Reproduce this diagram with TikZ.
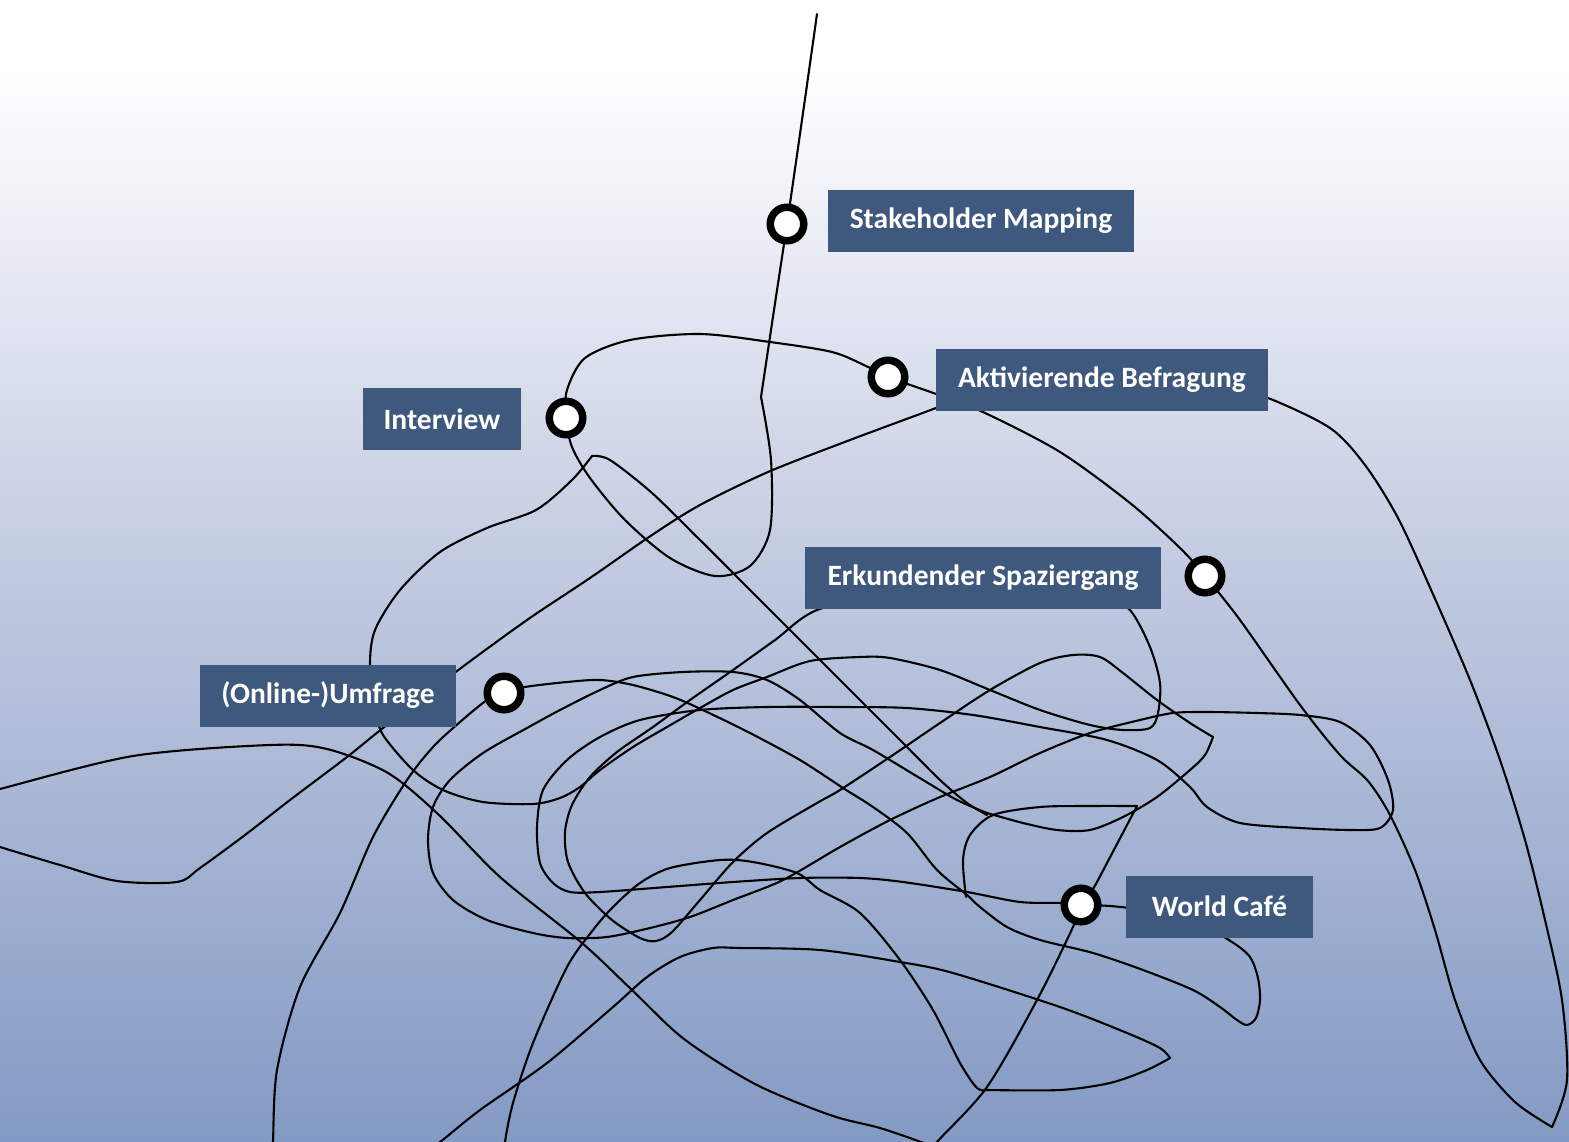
\documentclass[tikz,border=0pt]{standalone}
\usepackage{fontspec}
\newfontfamily\lblfont{Carlito}
\definecolor{bgbot}{RGB}{131,154,196}
\definecolor{bgmid}{RGB}{194,202,225}
\definecolor{boxblue}{RGB}{63,88,125}
% vertical fade: blue-grey at the bottom, white at the top
\pgfdeclareverticalshading{bgfade}{100bp}{color(0bp)=(bgbot); color(25bp)=(bgbot); color(50bp)=(bgmid); color(72bp)=(white); color(100bp)=(white)}

\begin{document}
\begin{tikzpicture}[x=1pt,y=-1pt,
  scribble/.style={line width=2.1pt, line cap=round, line join=round, black},
  dot/.style={circle, draw=black, fill=white, line width=7.5pt, minimum size=33.5pt, inner sep=0pt},
  lbl/.style={fill=boxblue, text=white, font=\lblfont\bfseries\fontsize{29.5}{34}\selectfont, inner sep=0pt, minimum height=62pt}]
\useasboundingbox (0,0) rectangle (1569,1142);
\shade[shading=bgfade] (0,0) rectangle (1569,1142);

% stations on the path
\coordinate (sm) at (787,224);
\coordinate (ak) at (888,377);
\coordinate (iv) at (566,418);
\coordinate (ek) at (1205,576);
\coordinate (on) at (504,693);
\coordinate (wc) at (1081,905);

% the tangled path, piece by piece (pieces meet at sharp turns or behind labels)
\begin{scope}[scribble]
\clip (0,0) rectangle (1569,1142);
% from the top through the upper stations down to the right-hand tip
\draw plot[smooth] coordinates {(817,14) (802,120) (sm) (774,310) (761,397)};
\draw plot[smooth] coordinates {(761,397) (771,460) (770,530) (750,566) (715,576) (670,558) (625,520) (590,478) (572,447) (iv) (567,390) (585,358) (630,340) (700,334) (770,342) (832,352) (866,366) (ak) (936,394) (985,413) (1060,452) (1130,503) (1180,548) (ek) (1240,620) (1300,705) (1340,755) (1368,781) (1390,815) (1415,870) (1435,930) (1455,1000) (1480,1060) (1515,1102) (1552,1127)};
% back up the right edge and out to the left border
\draw plot[smooth] coordinates {(1552,1127) (1567,1080) (1562,1000) (1545,920) (1525,840) (1500,760) (1470,680) (1432,592) (1398,518) (1365,465) (1330,428) (1268,398) (1230,390)};
\draw plot[smooth] coordinates {(960,398) (936,408) (850,440) (768,472) (700,505) (652,535) (590,578) (527,620) (457,671) (383,728) (347,757) (290,800) (245,835) (200,868) (177,882) (117,881) (60,865) (0,847) (-10,843)};
% loop below the interview station
\draw plot[smooth] coordinates {(375,710) (370,665) (375,630) (400,590) (440,552) (487,528) (536,510) (572,480) (592,456)};
\draw plot[smooth] coordinates {(592,456) (610,460) (652,493) (700,540) (740,580) (800,640) (860,700) (907,747) (940,780) (967,803) (987,815)};
\draw plot[smooth] coordinates {(375,710) (383,735) (413,770) (443,790) (483,802) (533,804) (560,798) (580,787) (600,770) (633,747) (667,727) (700,708) (733,690) (767,677) (810,661) (860,657) (890,658) (940,670) (990,690) (1040,710) (1090,725) (1123,730) (1150,728) (1158,713) (1160,683) (1150,647) (1130,610) (1100,590)};
\draw plot[smooth] coordinates {(900,590) (817,610) (775,640) (733,670) (690,700) (653,727) (617,752) (590,777) (572,805) (565,832) (568,862) (585,893) (612,920) (640,938) (656,941) (672,932) (700,900) (733,862) (767,833) (817,803) (840,790) (890,757) (940,723) (990,690) (1040,663) (1073,655) (1100,657) (1123,673) (1157,700) (1190,723) (1213,737)};
\draw plot[smooth] coordinates {(1213,737) (1205,755) (1190,770) (1157,797) (1123,817) (1090,830) (1057,830) (1023,823) (987,813)};
\draw plot[smooth] coordinates {(987,813) (957,800) (923,780) (873,750) (840,733) (800,700) (767,680) (733,672) (683,672) (633,677) (600,690) (560,710) (527,728) (483,753) (450,780) (433,807) (428,840) (433,873) (453,900) (487,920) (533,933) (567,938) (607,937) (650,928) (690,917) (733,900) (783,880) (840,847) (890,820) (940,797) (990,777) (1040,753) (1090,733) (1140,720) (1173,713) (1207,712) (1257,713) (1300,715) (1340,722) (1370,745) (1388,780) (1393,810) (1380,828) (1350,830) (1300,828) (1240,823) (1207,807) (1190,787) (1157,760) (1107,740) (1040,727) (973,715) (907,708) (840,707) (767,707) (700,710) (640,720) (600,737) (567,760) (543,790) (537,827) (540,863) (553,883) (570,892) (600,892) (667,887) (733,882) (800,878) (860,878) (903,882) (967,892) (1020,902) (1063,903) (wc)};
% past the world cafe station into the lower lobe and back to the survey station
\draw plot[smooth] coordinates {(wc) (1110,906) (1140,910) (1200,925) (1232,942) (1250,957) (1258,978) (1260,1000) (1256,1018) (1247,1025) (1237,1020) (1220,1007) (1193,990) (1143,970) (1093,953) (1040,940) (1007,927) (980,907) (967,895) (937,870) (907,833) (873,807) (843,788) (800,760) (750,733) (707,712) (673,697) (633,685) (600,680) (567,682) (525,687) (on)};
\draw plot[smooth] coordinates {(on) (487,700) (460,722) (433,747) (407,780) (373,837) (340,913) (300,987) (277,1070) (273,1142) (272,1160)};
% bottom loops
\draw plot[smooth] coordinates {(505,1160) (505,1142) (513,1103) (533,1043) (567,967) (593,930) (613,907) (640,883) (670,868) (720,860) (753,862) (797,873) (820,890) (860,913) (900,960) (933,1010) (960,1063) (977,1088) (987,1090)};
\draw plot[smooth] coordinates {(987,1090) (1060,1090) (1110,1083) (1147,1070) (1170,1058)};
\draw plot[smooth] coordinates {(1170,1058) (1160,1048) (1127,1033) (1060,1007) (953,973) (900,962) (820,950) (740,948) (713,948) (680,957) (647,977) (613,1007) (547,1063) (480,1110) (440,1142) (420,1155)};
\draw plot[smooth] coordinates {(966,897) (963,860) (970,835) (993,815) (1040,807) (1090,806) (1137,806)};
\draw plot[smooth] coordinates {(1137,806) (1127,825) (1107,863) (1093,889) (wc) (1073,927) (1037,1000) (987,1087) (937,1142) (925,1160)};
\draw plot[smooth] coordinates {(-10,792) (0,789) (133,756) (270,745) (327,749) (388,773) (439,815) (500,877) (582,943) (633,991) (684,1039) (755,1084) (830,1115) (880,1128) (921,1142) (940,1150)};
\end{scope}

% station markers
\node[dot] (smdot) at (sm) {};
\node[dot] (akdot) at (ak) {};
\node[dot] (ivdot) at (iv) {};
\node[dot] (ekdot) at (ek) {};
\node[dot] (ondot) at (on) {};
\node[dot] (wcdot) at (wc) {};

% labels
\node[lbl, minimum width=306pt] (smlbl) at (981,221) {Stakeholder Mapping};
\node[lbl, minimum width=332pt] (aklbl) at (1102,380) {Aktivierende Befragung};
\node[lbl, minimum width=158pt] (ivlbl) at (442,419) {Interview};
\node[lbl, minimum width=356pt] (eklbl) at (983,578) {Erkundender Spaziergang};
\node[lbl, minimum width=256pt] (onlbl) at (328,695.5) {(Online-)Umfrage};
\node[lbl, minimum width=187pt] (wclbl) at (1219.5,906.5) {World Café};
\end{tikzpicture}
\end{document}
